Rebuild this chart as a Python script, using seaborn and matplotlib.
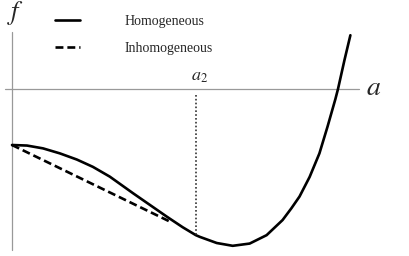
import numpy as np
import pandas as pd
import matplotlib
matplotlib.use('Agg')
import matplotlib.pyplot as plt
import seaborn as sns

# Free energy curve f(a)
a_homog = [0.000, 0.046, 0.095, 0.147, 0.199, 0.248, 0.300, 0.371,
           0.423, 0.475, 0.524, 0.564, 0.576, 0.628, 0.677, 0.729, 0.781, 0.830,
           0.857, 0.882, 0.913, 0.943, 0.968, 0.992, 1.000, 1.020, 1.038]
f_homog = [-1.00, -1.01, -1.06, -1.15, -1.26, -1.39, -1.565, -1.86,
           -2.07, -2.28, -2.47, -2.61, -2.64, -2.75, -2.80, -2.76, -2.61, -2.34,
           -2.13, -1.92, -1.57, -1.15, -0.67, -0.18, 0.00, 0.52, 0.96]

# Common tangent (inhomogeneous state)
a_inhomog = [0.000, 0.487]
f_inhomog = [-1.00, -2.375]

a2 = 0.564
f_a2 = -2.61

sns.set_style('white')
plt.rcParams['font.family'] = ['Liberation Serif', 'DejaVu Serif']
plt.rcParams['mathtext.fontset'] = 'stix'

fig = plt.figure(figsize=(4.09, 2.56), dpi=100)
ax = fig.add_axes([0, 0, 1, 1])
ax.set_xlim(-0.0368, 1.2178)
ax.set_ylim(-2.982, 1.589)
ax.axis('off')

# axes lines
ax.plot([-0.021, 1.064], [0, 0], color='#999999', lw=0.9)
ax.plot([0, 0], [-2.875, 1.02], color='#999999', lw=0.9)

homog = pd.DataFrame({'a': a_homog, 'f': f_homog})
inhomog = pd.DataFrame({'a': a_inhomog, 'f': f_inhomog})
sns.lineplot(data=homog, x='a', y='f', color='black', lw=1.9, estimator=None,
             ax=ax, label='Homogeneous')
sns.lineplot(data=inhomog, x='a', y='f', color='black', lw=1.9, ls=(0, (3, 1.5)),
             estimator=None, ax=ax, label='Inhomogeneous')

ax.plot([a2, a2], [-0.11, f_a2], color='#333333', lw=1.2, ls=(0, (1, 1.3)))

ax.text(a2 + 0.012, 0.23, r'$a_2$', fontsize=13, ha='center', va='center')
ax.text(1.11, 0.0, r'$a$', fontsize=20, ha='center', va='center')
ax.text(0.01, 1.36, r'$f$', fontsize=19, ha='center', va='center')

leg = ax.legend(loc='upper left', bbox_to_anchor=(0.105, 0.99), frameon=False,
                fontsize=10, handlelength=1.8, handletextpad=3.2, labelspacing=1.0)

fig.savefig('out.png', dpi=100)
